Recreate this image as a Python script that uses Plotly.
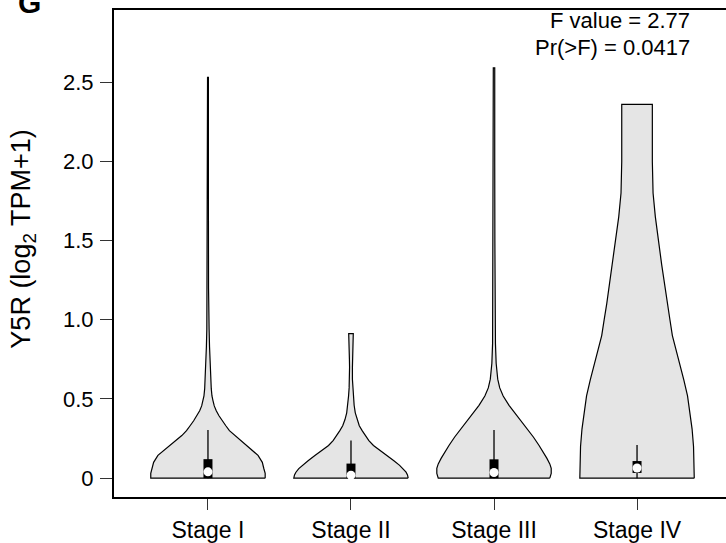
import plotly.graph_objects as go

# ---- data ----
stages = ["Stage I", "Stage II", "Stage III", "Stage IV"]
positions = [1, 2, 3, 4]

# violin density profiles: y grid and half-width (in category units)
s1_y = [0, 0.03, 0.0625, 0.1, 0.144, 0.175, 0.206, 0.2375, 0.269, 0.3, 0.331, 0.3625, 0.394,
        0.425, 0.456, 0.49, 0.519, 0.565, 0.6125, 0.67, 0.725, 0.83, 0.94, 1.2, 1.8, 2.53]
s1_w = [0.40, 0.40, 0.39, 0.38, 0.35, 0.31, 0.27, 0.225, 0.183, 0.15, 0.125, 0.10, 0.077,
        0.058, 0.044, 0.035, 0.028, 0.023, 0.02, 0.017, 0.014, 0.011, 0.008, 0.004, 0.003, 0.003]
s2_y = [0, 0.02, 0.0375, 0.06, 0.081, 0.11, 0.144, 0.175, 0.206, 0.2375, 0.269, 0.3, 0.331,
        0.37, 0.4125, 0.46, 0.519, 0.57, 0.625, 0.7, 0.75, 0.82, 0.86, 0.9125]
s2_w = [0.40, 0.395, 0.385, 0.365, 0.34, 0.30, 0.25, 0.20, 0.157, 0.125, 0.10, 0.078, 0.058,
        0.042, 0.03, 0.022, 0.017, 0.013, 0.01, 0.01, 0.011, 0.014, 0.016, 0.016]
s3_y = [0, 0.03, 0.0625, 0.09, 0.125, 0.165, 0.206, 0.26, 0.3125, 0.36, 0.4125, 0.46, 0.519,
        0.57, 0.625, 0.68, 0.725, 0.85, 1.0, 1.5, 2.0, 2.59]
s3_w = [0.39, 0.40, 0.40, 0.39, 0.37, 0.345, 0.315, 0.275, 0.23, 0.19, 0.146, 0.105, 0.064,
        0.04, 0.026, 0.019, 0.015, 0.01, 0.008, 0.006, 0.005, 0.005]
s4_y = [0, 0.1, 0.2, 0.31, 0.42, 0.52, 0.62, 0.73, 0.82, 0.9, 1.0, 1.1, 1.2, 1.35, 1.5,
        1.65, 1.8, 1.9, 2.0, 2.36]
s4_w = [0.40, 0.40, 0.395, 0.385, 0.37, 0.353, 0.327, 0.297, 0.27, 0.247, 0.23, 0.212, 0.195,
        0.172, 0.15, 0.128, 0.112, 0.108, 0.107, 0.107]

# inner box plot stats
whisker_lo = [0, 0, 0, 0]
whisker_hi = [0.304, 0.2375, 0.304, 0.21]
q1 = [0, 0, 0, 0.033]
q3 = [0.12, 0.092, 0.119, 0.108]
median = [0.04, 0.019, 0.036, 0.064]

y_tickvals = [0, 0.5, 1.0, 1.5, 2.0, 2.5]
y_ticktext = ["0", "0.5", "1.0", "1.5", "2.0", "2.5"]

FONT = "Liberation Sans, Arial, Helvetica, sans-serif"

profiles = [(s1_y, s1_w), (s2_y, s2_w), (s3_y, s3_w), (s4_y, s4_w)]

fig = go.Figure()
for pos, (ys, ws) in zip(positions, profiles):
    xs = [pos + w for w in ws] + [pos - w for w in reversed(ws)]
    yy = list(ys) + list(reversed(ys))
    xs.append(xs[0]); yy.append(yy[0])
    fig.add_trace(go.Scatter(x=xs, y=yy, mode="lines", fill="toself",
                             fillcolor="#e5e5e5",
                             line=dict(color="black", width=1.2),
                             hoverinfo="skip", showlegend=False))

for i, pos in enumerate(positions):
    fig.add_trace(go.Scatter(x=[pos, pos], y=[whisker_lo[i], whisker_hi[i]], mode="lines",
                             line=dict(color="black", width=1.3), showlegend=False, hoverinfo="skip"))
    fig.add_trace(go.Scatter(x=[pos, pos], y=[q1[i], q3[i]], mode="lines",
                             line=dict(color="black", width=9), showlegend=False, hoverinfo="skip"))

fig.add_trace(go.Scatter(x=positions, y=median, mode="markers",
                         marker=dict(color="white", size=9, line=dict(width=0)),
                         showlegend=False, hoverinfo="skip"))

W, H = 726, 543
ml, mr, mt, mb = 114, 0, 10, 41
pw, ph = W - ml - mr, H - mt - mb

def px_x(p):
    return (p - ml) / pw

def px_y(p):
    return (H - mb - p) / ph

fig.update_layout(
    width=W, height=H,
    margin=dict(l=ml, r=mr, t=mt, b=mb, pad=0),
    paper_bgcolor="white", plot_bgcolor="white",
    font=dict(family=FONT, color="black"),
    xaxis=dict(range=[0.343, 4.622], tickvals=positions, ticktext=stages,
               showgrid=False, zeroline=False, showline=True, mirror=True,
               linecolor="black", linewidth=2, ticks="outside", ticklen=11,
               tickcolor="#333", tickwidth=1, tickfont=dict(size=23, family=FONT)),
    yaxis=dict(range=[-0.119, 2.956], tickvals=y_tickvals, ticktext=y_ticktext,
               showgrid=False, zeroline=False, showline=True,
               linecolor="black", linewidth=2, ticks="outside", ticklen=12,
               tickcolor="#333", tickwidth=1, tickfont=dict(size=22, family=FONT),
               ticklabelstandoff=2),
    annotations=[
        dict(text="F value = 2.77", x=px_x(692), y=px_y(21), xref="paper", yref="paper",
             xanchor="right", yanchor="middle", showarrow=False, font=dict(size=22, family=FONT)),
        dict(text="Pr(>F) = 0.0417", x=px_x(692), y=px_y(48), xref="paper", yref="paper",
             xanchor="right", yanchor="middle", showarrow=False, font=dict(size=22, family=FONT)),
        dict(text="Y5R (log<sub>2</sub> TPM+1)", x=px_x(23), y=px_y(242), xref="paper", yref="paper",
             xanchor="center", yanchor="middle", textangle=-90, showarrow=False,
             font=dict(size=27, family=FONT)),
        dict(text="<b>G</b>", x=px_x(16), y=px_y(2), xref="paper", yref="paper",
             xanchor="left", yanchor="middle", showarrow=False, font=dict(size=30, family=FONT)),
    ],
)

fig.write_html("out.html")
